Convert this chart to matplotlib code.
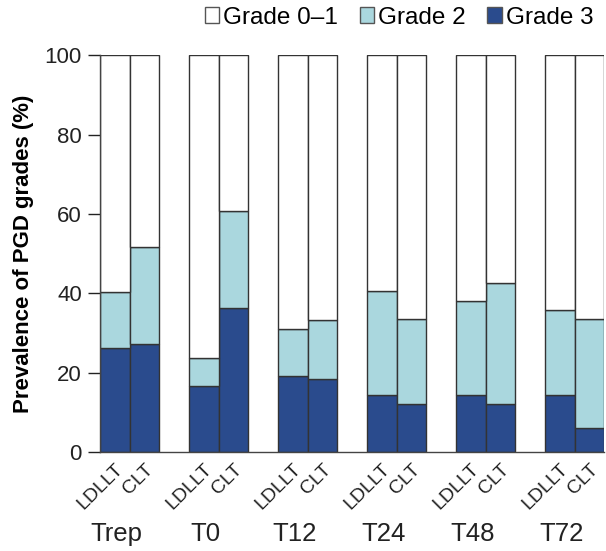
import numpy as np
import matplotlib
matplotlib.use('Agg')
import matplotlib.pyplot as plt
from matplotlib.patches import Patch

plt.rcParams['font.family'] = ['Liberation Sans', 'DejaVu Sans']

timepoints = ['Trep', 'T0', 'T12', 'T24', 'T48', 'T72']
groups = ['LDLLT', 'CLT']
# values per timepoint: [LDLLT, CLT]
grade3 = [[26.3, 27.3], [16.7, 36.4], [19.2, 18.4], [14.4, 12.3], [14.4, 12.3], [14.4, 6.2]]
total_pgd = [[40.3, 51.6], [23.8, 60.7], [31.0, 33.3], [40.7, 33.5], [38.1, 42.6], [35.8, 33.5]]

dark_blue = '#2a4b8d'
light_blue = '#aad7de'
edge = '#333333'

g3 = np.array(grade3).ravel()
tot = np.array(total_pgd).ravel()
g2 = tot - g3
g01 = 100 - tot

centers = np.arange(len(timepoints)) * 3.0
xpos = np.array([[c - 0.5, c + 0.5] for c in centers]).ravel()
xlabels = groups * len(timepoints)

fig = plt.figure(figsize=(6.06, 5.51), dpi=100)
ax = fig.add_axes([0.165, 0.179, 0.832, 0.721])

ax.bar(xpos, g3, width=1.0, color=dark_blue, edgecolor=edge, linewidth=1)
ax.bar(xpos, g2, width=1.0, bottom=g3, color=light_blue, edgecolor=edge, linewidth=1)
ax.bar(xpos, g01, width=1.0, bottom=tot, color='white', edgecolor=edge, linewidth=1)

ax.set_xlim(-1, centers[-1] + 1)
ax.set_ylim(0, 100)
ax.set_yticks(np.arange(0, 101, 20))
ax.tick_params(axis='y', direction='out', length=9, width=1, labelsize=16, colors='#222222', pad=4)
ax.set_xticks(xpos)
ax.set_xticklabels(xlabels, rotation=45, ha='right', rotation_mode='anchor', fontsize=14)
ax.tick_params(axis='x', length=0, pad=6, colors='#222222')

for s in ['top', 'right']:
    ax.spines[s].set_visible(False)
for s in ['left', 'bottom']:
    ax.spines[s].set_color('#444444')
    ax.spines[s].set_linewidth(1)

ax.set_ylabel('Prevalence of PGD grades (%)', fontsize=16, fontweight='bold', labelpad=8)

for c, t in zip(centers, timepoints):
    ax.text(c - 0.45, -0.222, t, transform=ax.get_xaxis_transform(),
            ha='center', va='baseline', fontsize=18.5, color='#222222')

handles = [Patch(facecolor='white', edgecolor='#555555', label='Grade 0–1'),
           Patch(facecolor=light_blue, edgecolor='#555555', label='Grade 2'),
           Patch(facecolor=dark_blue, edgecolor='#555555', label='Grade 3')]
fig.legend(handles=handles, loc='center right', bbox_to_anchor=(0.995, 0.968), ncol=3,
           frameon=False, fontsize=17.5, handlelength=0.6, handleheight=0.6,
           handletextpad=0.15, columnspacing=0.9, borderaxespad=0)

fig.savefig('out.png', dpi=100)
